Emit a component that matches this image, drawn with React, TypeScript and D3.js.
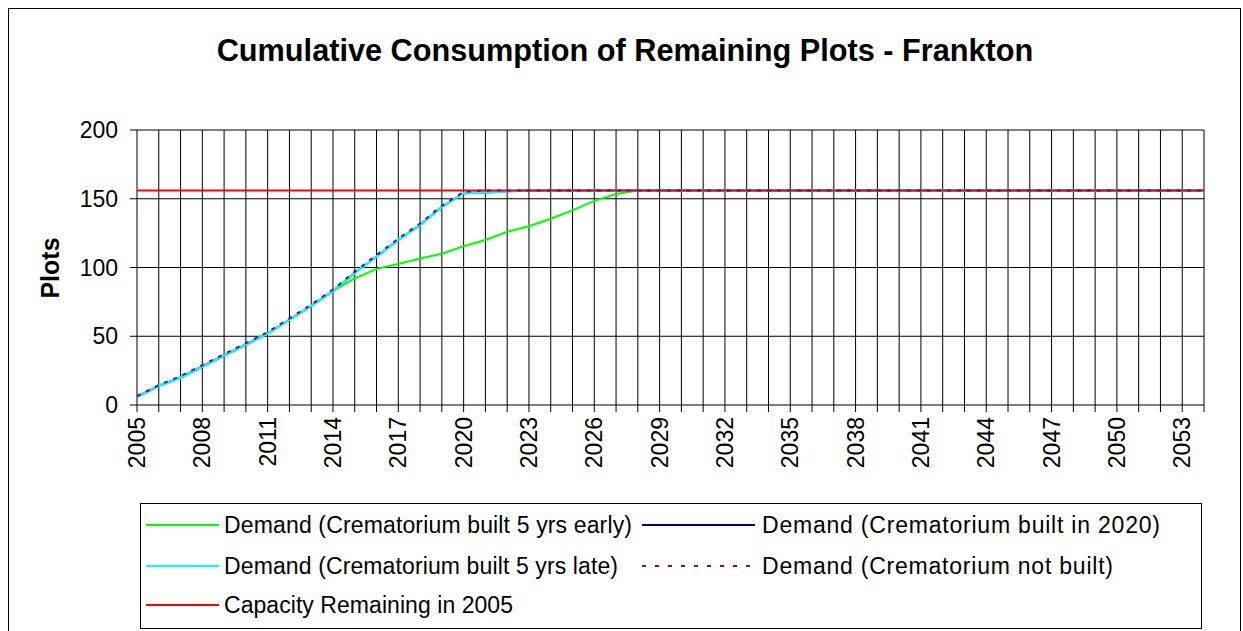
import React from "react";
import * as d3 from "d3";

const years: number[] = [
  2005, 2006, 2007, 2008, 2009, 2010, 2011, 2012, 2013, 2014,
  2015, 2016, 2017, 2018, 2019, 2020, 2021, 2022, 2023, 2024,
  2025, 2026, 2027, 2028, 2029, 2030, 2031, 2032, 2033, 2034,
  2035, 2036, 2037, 2038, 2039, 2040, 2041, 2042, 2043, 2044,
  2045, 2046, 2047, 2048, 2049, 2050, 2051, 2052, 2053, 2054,
];

const demandEarly: number[] = [
  6, 14, 20, 28, 36, 44, 52, 62, 72, 83,
  92, 99, 102.5, 106.5, 110, 115.5, 120, 126, 130, 135.5,
  141.5, 148.5, 153.5, 156, 156, 156, 156, 156, 156, 156,
  156, 156, 156, 156, 156, 156, 156, 156, 156, 156,
  156, 156, 156, 156, 156, 156, 156, 156, 156, 156,
];

const demand2020: number[] = [
  6, 14, 20, 28, 36, 44, 52, 62, 72, 83,
  96, 108, 120, 131, 144, 154, 154.5, 155.5, 156, 156,
  156, 156, 156, 156, 156, 156, 156, 156, 156, 156,
  156, 156, 156, 156, 156, 156, 156, 156, 156, 156,
  156, 156, 156, 156, 156, 156, 156, 156, 156, 156,
];

const demandLate: number[] = [
  6, 14, 20, 28, 36, 44, 52, 62, 72, 83,
  96, 108, 120, 131, 144, 154, 154.5, 155.5, 156, 156,
  156, 156, 156, 156, 156, 156, 156, 156, 156, 156,
  156, 156, 156, 156, 156, 156, 156, 156, 156, 156,
  156, 156, 156, 156, 156, 156, 156, 156, 156, 156,
];

const demandNotBuilt: number[] = [
  6.5, 14.5, 21, 29, 37, 45, 53, 63, 73, 84,
  97, 109, 121, 132, 145, 155, 156, 156, 156, 156,
  156, 156, 156, 156, 156, 156, 156, 156, 156, 156,
  156, 156, 156, 156, 156, 156, 156, 156, 156, 156,
  156, 156, 156, 156, 156, 156, 156, 156, 156, 156,
];

const capacity: number[] = [
  156, 156, 156, 156, 156, 156, 156, 156, 156, 156,
  156, 156, 156, 156, 156, 156, 156, 156, 156, 156,
  156, 156, 156, 156, 156, 156, 156, 156, 156, 156,
  156, 156, 156, 156, 156, 156, 156, 156, 156, 156,
  156, 156, 156, 156, 156, 156, 156, 156, 156, 156,
];

const yTicks: number[] = [0, 50, 100, 150, 200];
const xLabelYears: number[] = [
  2005, 2008, 2011, 2014, 2017, 2020, 2023, 2026, 2029, 2032,
  2035, 2038, 2041, 2044, 2047, 2050, 2053,
];

const titleText = "Cumulative Consumption of Remaining Plots - Frankton";
const yAxisTitle = "Plots";
const seriesNames: string[] = [
  "Demand (Crematorium built 5 yrs early)",
  "Demand (Crematorium built in 2020)",
  "Demand (Crematorium built 5 yrs late)",
  "Demand (Crematorium not built)",
  "Capacity Remaining in 2005",
];

const FONT = "Arial, 'Liberation Sans', sans-serif";

export default function App() {
  const left = 137;
  const right = 1204;
  const top = 130;
  const bottom = 405;

  const x = d3.scalePoint<number>().domain(years).range([left, right]);
  const y = d3.scaleLinear().domain([0, 200]).range([bottom, top]);

  const line = (vals: number[]) =>
    d3
      .line<number>()
      .x((_, i) => x(years[i]) as number)
      .y((d) => y(d))(vals) as string;

  const series = [
    { vals: demandEarly, color: "#00FF00", width: 2, dash: undefined as string | undefined },
    { vals: demand2020, color: "#000080", width: 2, dash: undefined },
    { vals: demandLate, color: "#00FFFF", width: 2.5, dash: undefined },
    { vals: capacity, color: "#FF0000", width: 2, dash: undefined },
    { vals: demandNotBuilt, color: "#800080", width: 2, dash: "4,6" },
  ];

  const legendItems = [
    { name: seriesNames[0], color: "#00FF00", dash: undefined as string | undefined, x1: 146, x2: 219, tx: 224, ty: 525, len: 408 },
    { name: seriesNames[1], color: "#000080", dash: undefined, x1: 642, x2: 755, tx: 762, ty: 525, len: 398 },
    { name: seriesNames[2], color: "#00FFFF", dash: undefined, x1: 146, x2: 219, tx: 224, ty: 566, len: 394 },
    { name: seriesNames[3], color: "#800080", dash: "4,9", x1: 642, x2: 755, tx: 762, ty: 566, len: 351 },
    { name: seriesNames[4], color: "#FF0000", dash: undefined, x1: 146, x2: 219, tx: 224, ty: 605, len: 289 },
  ];

  return (
    <svg
      width={1243}
      height={631}
      style={{ position: "absolute", left: 0, top: 0, background: "#fff" }}
      fontFamily={FONT}
    >
      <rect x={0} y={0} width={1243} height={631} fill="#fff" />
      <rect x={8.5} y={8.5} width={1232} height={700} fill="none" stroke="#000" strokeWidth={1} />

      <text x={625} y={61} textAnchor="middle" fontSize={30.7} fontWeight="bold" fill="#000">
        {titleText}
      </text>

      {/* horizontal gridlines */}
      {yTicks.map((t) => (
        <g key={"h" + t}>
          <line x1={left - 7} x2={right} y1={y(t)} y2={y(t)} stroke="#000" strokeWidth={1} />
          <text x={118} y={y(t)} dy="0.35em" textAnchor="end" fontSize={23} fill="#000">
            {t}
          </text>
        </g>
      ))}

      {/* vertical gridlines */}
      {years.map((yr) => (
        <line
          key={"v" + yr}
          x1={x(yr)}
          x2={x(yr)}
          y1={top}
          y2={bottom + 7}
          stroke="#000"
          strokeWidth={1}
        />
      ))}

      {xLabelYears.map((yr) => (
        <text
          key={"xl" + yr}
          transform={`translate(${x(yr)},417) rotate(-90)`}
          dy="0.35em"
          textAnchor="end"
          fontSize={23}
          fill="#000"
        >
          {yr}
        </text>
      ))}

      <text
        transform="translate(50,268) rotate(-90)"
        dy="0.35em"
        textAnchor="middle"
        fontSize={25}
        fontWeight="bold"
        fill="#000"
      >
        {yAxisTitle}
      </text>

      {series.map((s, i) => (
        <path
          key={"s" + i}
          d={line(s.vals)}
          fill="none"
          stroke={s.color}
          strokeWidth={s.width}
          strokeDasharray={s.dash}
        />
      ))}

      {/* legend */}
      <rect x={140.5} y={503.5} width={1061} height={125} fill="#fff" stroke="#000" strokeWidth={1} />
      {legendItems.map((it, i) => (
        <g key={"lg" + i}>
          <line
            x1={it.x1}
            x2={it.x2}
            y1={it.ty}
            y2={it.ty}
            stroke={it.color}
            strokeWidth={2}
            strokeDasharray={it.dash}
          />
          <text
            x={it.tx}
            y={it.ty}
            dy="0.35em"
            fontSize={23}
            fill="#000"
            textLength={it.len}
            lengthAdjust="spacing"
          >
            {it.name}
          </text>
        </g>
      ))}
    </svg>
  );
}
